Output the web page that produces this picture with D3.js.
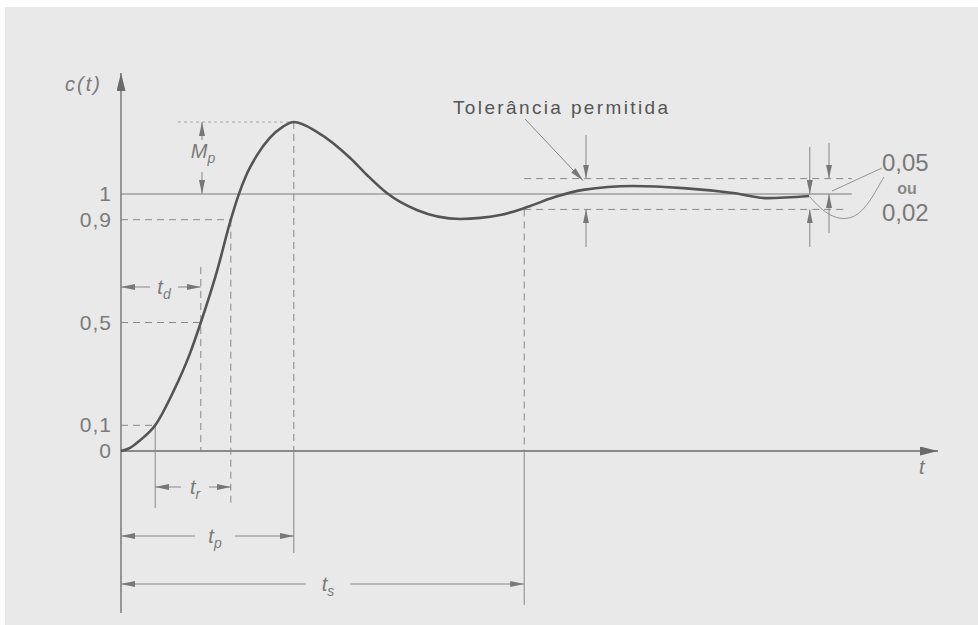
<!DOCTYPE html>
<html>
<head>
<meta charset="utf-8">
<script src="https://cdn.jsdelivr.net/npm/d3@7"></script>
<style>
  body { margin:0; background:#fff; }
  svg { display:block; }
  text { font-family:"Liberation Sans", Arial, sans-serif; fill:#7a7a7a; }
</style>
</head>
<body>
<div id="canvas"></div>
<script>
// step response (time in arbitrary units, c(t))
var tValues = [0, 0.15, 0.32, 0.57, 0.87, 1.15, 1.33, 1.6, 1.83, 1.95, 2.1, 2.27, 2.48, 2.7, 2.88, 3.27, 3.82, 4.1, 4.43, 4.93, 5.65, 6.32, 6.77, 7.23, 7.7, 8.53, 9.37, 10.2, 10.77, 11.47];
var cValues = [0, 0.012, 0.042, 0.1, 0.23, 0.38, 0.5, 0.70, 0.9, 0.99, 1.08, 1.152, 1.218, 1.262, 1.28, 1.241, 1.14, 1.074, 1.004, 0.938, 0.903, 0.918, 0.949, 0.988, 1.016, 1.031, 1.023, 1.004, 0.984, 0.992];

// y tick labels
var tickValues = [0, 0.1, 0.5, 0.9, 1];
var tickLabels = ['0', '0,1', '0,5', '0,9', '1'];

// characteristic times
var t10 = 0.57, tDelay = 1.33, t90 = 1.83, tPeak = 2.88, tSettle = 6.72;
var cPeak = 1.28;
var tol = 0.06;
var tTolArrow = 7.75, tEndA = 11.48, tEndB = 11.8, tRefEnd = 12.18;
var tolLabel = 'Tolerância permitida';
var tolValues = ['0,05', 'ou', '0,02'];

var W = 978, H = 625;
var svg = d3.select('#canvas').append('svg').attr('width', W).attr('height', H);

svg.append('rect').attr('x', 5).attr('y', 7).attr('width', W - 5).attr('height', H - 7).attr('fill', '#e9e9e9');

var x = d3.scaleLinear().domain([0, 13.65]).range([121, 940]);
var y = d3.scaleLinear().domain([0, 1]).range([451, 194]);

var defs = svg.append('defs');
defs.append('marker').attr('id', 'ah')
  .attr('viewBox', '0 0 14 6').attr('refX', 14).attr('refY', 3)
  .attr('markerWidth', 14).attr('markerHeight', 6)
  .attr('markerUnits', 'userSpaceOnUse').attr('orient', 'auto')
  .append('path').attr('d', 'M0,0L14,3L0,6Z').attr('fill', '#777');
defs.append('marker').attr('id', 'ahBig')
  .attr('viewBox', '0 0 18 9').attr('refX', 18).attr('refY', 4.5)
  .attr('markerWidth', 18).attr('markerHeight', 9)
  .attr('markerUnits', 'userSpaceOnUse').attr('orient', 'auto')
  .append('path').attr('d', 'M0,0L18,4.5L0,9Z').attr('fill', '#6a6a6a');

var g = svg.append('g');

function line(x1, y1, x2, y2, cls) {
  var l = g.append('line').attr('x1', x1).attr('y1', y1).attr('x2', x2).attr('y2', y2)
    .attr('stroke', '#888').attr('stroke-width', 1);
  if (cls == 'dash') l.attr('stroke-dasharray', '7,5');
  if (cls == 'dot') l.attr('stroke-dasharray', '3,3').attr('stroke', '#aaa');
  if (cls == 'arrow') l.attr('marker-end', 'url(#ah)');
  return l;
}

// axes
g.append('line').attr('x1', x(0)).attr('y1', 613).attr('x2', x(0)).attr('y2', 73)
  .attr('stroke', '#6a6a6a').attr('stroke-width', 1.3).attr('marker-end', 'url(#ahBig)');
g.append('line').attr('x1', x(0)).attr('y1', y(0)).attr('x2', 938).attr('y2', y(0))
  .attr('stroke', '#6a6a6a').attr('stroke-width', 1.3).attr('marker-end', 'url(#ahBig)');

// reference level 1 and tolerance band
line(x(0), y(1), x(tRefEnd), y(1)).attr('stroke', '#7a7a7a').attr('stroke-width', 1.2);
line(x(tSettle), y(1 + tol), x(tRefEnd), y(1 + tol), 'dash');
line(x(tSettle), y(1 - tol), x(tRefEnd) - 4, y(1 - tol), 'dash');

// level guides
line(x(0), y(0.1), x(t10), y(0.1), 'dash');
line(x(0), y(0.5), x(tDelay), y(0.5), 'dash');
line(x(0), y(0.9), x(t90), y(0.9), 'dash');
line(178, y(cPeak), x(tPeak), y(cPeak), 'dot');

// time guides
line(x(t10), y(0.1), x(t10), 508);
line(x(tDelay), 267, x(tDelay), y(0), 'dash');
line(x(t90), y(0.9), x(t90), 503, 'dash');
line(x(tPeak), y(cPeak), x(tPeak), y(0), 'dash');
line(x(tPeak), y(0), x(tPeak), 553);
line(x(tSettle), y(1 - tol), x(tSettle), y(0), 'dash');
line(x(tSettle), y(0), x(tSettle), 605);

// response curve
var pts = tValues.map(function (t, i) { return [t, cValues[i]]; });
g.append('path').datum(pts)
  .attr('d', d3.line().x(function (d) { return x(d[0]); }).y(function (d) { return y(d[1]); }).curve(d3.curveMonotoneX))
  .attr('fill', 'none').attr('stroke', '#555').attr('stroke-width', 2.6);

// dimension arrows with labels
function dim(xa, xb, yy, lx, gap, sub) {
  line(lx - gap, yy, xa, yy, 'arrow');
  line(lx + gap, yy, xb, yy, 'arrow');
  var tx = g.append('text').attr('x', lx).attr('y', yy + 7).attr('text-anchor', 'middle')
    .style('font-style', 'italic').style('font-size', '20px').text('t');
  tx.append('tspan').attr('dy', 5).style('font-size', '14px').text(sub);
}
dim(x(0), x(tDelay), 287, 164, 14, 'd');
dim(x(t10), x(t90), 487, 195, 14, 'r');
dim(x(0), x(tPeak), 536, 215, 20, 'p');
dim(x(0), x(tSettle), 584, 328, 22, 's');

// Mp
var xm = x(1.35);
line(xm, 140, xm, y(cPeak), 'arrow');
line(xm, 172, xm, y(1), 'arrow');
var mp = g.append('text').attr('x', 203).attr('y', 158).attr('text-anchor', 'middle')
  .style('font-style', 'italic').style('font-size', '20px').text('M');
mp.append('tspan').attr('dy', 5).style('font-size', '14px').text('p');

// tolerance arrows
line(x(tTolArrow), 135, x(tTolArrow), y(1 + tol), 'arrow');
line(x(tTolArrow), 247, x(tTolArrow), y(1 - tol), 'arrow');
line(x(tEndA), 147, x(tEndA), y(1), 'arrow');
line(x(tEndA), 247, x(tEndA), y(1 - tol), 'arrow');
line(x(tEndB), 143, x(tEndB), y(1 + tol), 'arrow');
line(x(tEndB), 233, x(tEndB), y(1), 'arrow');

g.append('text').attr('x', 453).attr('y', 114).attr('textLength', 215).attr('lengthAdjust', 'spacing')
  .style('font-size', '19px').style('fill', '#555').text(tolLabel);
line(525, 119, x(tTolArrow) - 3, y(1 + tol) + 2, 'arrow');

// leaders to 0,05 / 0,02
g.append('path').attr('d', 'M' + (x(tEndB) + 3) + ',' + (y(1) - 3) + 'L882,168')
  .attr('fill', 'none').attr('stroke', '#888').attr('stroke-width', 0.9);
g.append('path').attr('d', 'M' + x(tEndA) + ',' + y(0.99) + 'C824,214 838,222 852,217 C866,212 876,190 884,177')
  .attr('fill', 'none').attr('stroke', '#888').attr('stroke-width', 0.9);

g.append('text').attr('x', 882).attr('y', 171).style('font-size', '24px').text(tolValues[0]);
g.append('text').attr('x', 907).attr('y', 194).attr('text-anchor', 'middle')
  .style('font-size', '16px').style('font-weight', 'bold').style('fill', '#888').text(tolValues[1]);
g.append('text').attr('x', 882).attr('y', 221).style('font-size', '24px').text(tolValues[2]);

// y tick labels
g.selectAll('.tick').data(tickValues).enter().append('text')
  .attr('x', 112).attr('y', function (d) { return y(d) + 7; })
  .attr('text-anchor', 'end').style('font-size', '21px').style('letter-spacing', '1px')
  .text(function (d, i) { return tickLabels[i]; });

// axis names
g.append('text').attr('x', 65).attr('y', 91).style('font-style', 'italic')
  .style('font-size', '20px').style('letter-spacing', '2px').text('c(t)');
g.append('text').attr('x', 919).attr('y', 474).style('font-style', 'italic').style('font-size', '20px').text('t');
</script>
</body>
</html>
